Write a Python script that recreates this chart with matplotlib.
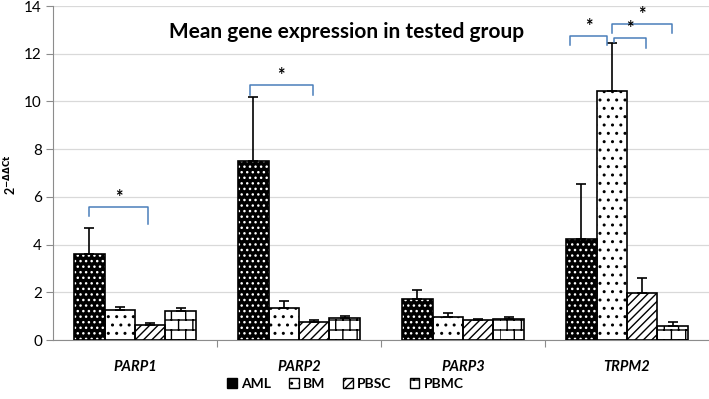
import warnings
import matplotlib
matplotlib.use("Agg")
import matplotlib.pyplot as plt
import matplotlib.hatch as mhatch
from matplotlib.path import Path
from matplotlib.patches import Patch
import numpy as np

warnings.filterwarnings("ignore")
plt.rcParams['font.family'] = ['Lato', 'DejaVu Sans']
plt.rcParams['hatch.linewidth'] = 1.0


class BrickHatch(mhatch.HatchPatternBase):
    """Brick-wall hatch, selected by the letter 'b' in the hatch string."""
    def __init__(self, hatch, density):
        self.on = 'b' in hatch
        self.rows = 10
        self.cols = 7
        self.num_vertices = (self.rows * 2 + self.rows * self.cols * 2) if self.on else 0

    def set_vertices_and_codes(self, vertices, codes):
        i = 0
        for k in range(self.rows):
            y = k / self.rows
            vertices[i] = (0, y); vertices[i + 1] = (1, y)
            codes[i] = Path.MOVETO; codes[i + 1] = Path.LINETO
            i += 2
        for k in range(self.rows):
            y0 = k / self.rows
            y1 = (k + 1) / self.rows
            for j in range(self.cols):
                xv = (j + 0.5 * (k % 2)) / self.cols
                vertices[i] = (xv, y0); vertices[i + 1] = (xv, y1)
                codes[i] = Path.MOVETO; codes[i + 1] = Path.LINETO
                i += 2


mhatch._hatch_types.append(BrickHatch)

genes = ["PARP1", "PARP2", "PARP3", "TRPM2"]
groups = ["AML", "BM", "PBSC", "PBMC"]
means = {
    "AML":  [3.60, 7.50, 1.72, 4.23],
    "BM":   [1.26, 1.34, 0.97, 10.45],
    "PBSC": [0.63, 0.75, 0.82, 1.97],
    "PBMC": [1.20, 0.92, 0.88, 0.59],
}
errs = {
    "AML":  [1.09, 2.70, 0.38, 2.32],
    "BM":   [0.12, 0.29, 0.15, 2.00],
    "PBSC": [0.08, 0.08, 0.08, 0.63],
    "PBMC": [0.13, 0.10, 0.10, 0.16],
}
yticks = [0, 2, 4, 6, 8, 10, 12, 14]

styles = {
    "AML":  dict(face="black", hatch="...", hcol="white"),
    "BM":   dict(face="white", hatch="..", hcol="black"),
    "PBSC": dict(face="white", hatch="////", hcol="black"),
    "PBMC": dict(face="white", hatch="b", hcol="black"),
}

fig = plt.figure(figsize=(7.09, 3.99), dpi=100)
ax = fig.add_axes([53/709, 1-340/399, 1-53/709, (340-6)/399])

x = np.arange(len(genes))
w = 0.185
offsets = np.array([-1.5, -0.5, 0.5, 1.5]) * w
for i, g in enumerate(groups):
    st = styles[g]
    pos = x + offsets[i]
    ax.bar(pos, means[g], w, color=st["face"], edgecolor=st["hcol"], hatch=st["hatch"],
           linewidth=0, zorder=3)
    ax.bar(pos, means[g], w, facecolor="none", edgecolor="black", linewidth=1.2, zorder=4)
    ax.errorbar(pos, means[g], yerr=[np.zeros(len(genes)), errs[g]], fmt="none",
                ecolor="black", elinewidth=1.2, capsize=3.5, capthick=1.2, zorder=5)

ax.set_xlim(-0.5, 3.5)
ax.set_ylim(0, 14)
ax.set_yticks(yticks)
ax.set_yticklabels([str(t) for t in yticks], fontsize=11)
ax.yaxis.grid(True, color="#d9d9d9", linewidth=0.9, zorder=0)
ax.set_axisbelow(True)
for s in ["top", "right"]:
    ax.spines[s].set_visible(False)
ax.spines["left"].set_color("#8c8c8c")
ax.spines["bottom"].set_color("#8c8c8c")
ax.tick_params(axis="y", color="#8c8c8c", length=5, pad=3)
ax.set_xticks([0.5, 1.5, 2.5])
ax.set_xticklabels([])
ax.tick_params(axis="x", color="#8c8c8c", length=5)
for i, g in enumerate(genes):
    ax.text(i, -1.13, g, ha="center", va="center", fontsize=10.5,
            fontweight="bold", fontstyle="italic")

fig.text(11/709, 1 - 175/399, r"2$^{\mathbf{-ΔΔCt}}$", rotation=90, ha="center",
         va="center", fontsize=9, fontweight="bold")

ax.text(1.29, 12.9, "Mean gene expression in tested group", ha="center", va="center",
        fontsize=15, fontweight="bold")

# significance brackets: (x1, x2, y, left drop, right drop)
brackets = [
    (-0.28, 0.08, 5.57, 0.38, 0.70),
    (0.70, 1.085, 10.69, 0.40, 0.42),
    (2.652, 2.878, 12.74, 0.38, 0.38),
    (2.92, 3.116, 12.66, 0.15, 0.40),
    (2.91, 3.274, 13.24, 0.38, 0.38),
]
for x1, x2, y, d1, d2 in brackets:
    ax.plot([x1, x1, x2, x2], [y - d1, y, y, y - d2], color="#4a7ebb",
            linewidth=1.1, zorder=6, clip_on=False)
    ax.text((x1 + x2) / 2, y + 0.05, "*", ha="center", va="bottom", fontsize=13,
            fontweight="bold", zorder=7)

handles = [Patch(facecolor=styles[g]["face"], edgecolor="black", hatch=styles[g]["hatch"],
                 linewidth=1.0) for g in groups]
leg = fig.legend(handles, groups, loc="center", bbox_to_anchor=(0.487, 0.038), ncol=4,
                 frameon=False, fontsize=10, handlelength=0.7, handleheight=0.7,
                 handletextpad=0.3, columnspacing=1.3)
for t in leg.get_texts():
    t.set_fontweight("bold")

fig.savefig("out.png", dpi=100)
